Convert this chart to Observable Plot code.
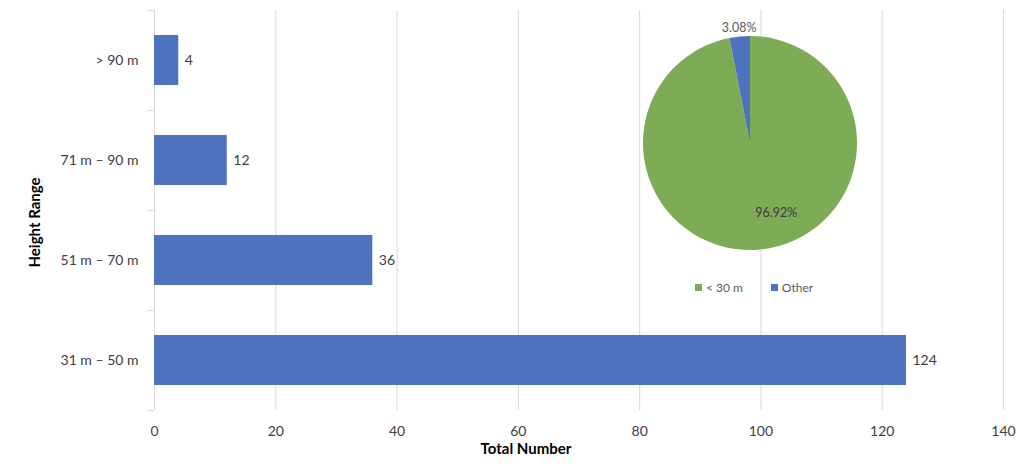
<!DOCTYPE html>
<html><head><meta charset="utf-8">
<script src="https://cdn.jsdelivr.net/npm/d3@7"></script>
<script src="https://cdn.jsdelivr.net/npm/@observablehq/plot@0.6"></script>
<style>
body{margin:0;background:#fff;}
#wrap{position:relative;width:1024px;height:473px;overflow:hidden;font-family:Lato,sans-serif;}
#pie{position:absolute;left:620px;top:0;}
#legend{position:absolute;left:624px;top:280px;width:260px;display:flex;justify-content:center;gap:28px;font:12px Lato,sans-serif;color:#595959;}
#legend span.sw{display:inline-block;width:7px;height:7px;margin-right:4px;vertical-align:middle;position:relative;top:-1px;}
</style>
</head><body><div id="wrap"><div id="pie"></div><div id="legend"></div></div>
<script>
const categories = ["> 90 m", "71 m – 90 m", "51 m – 70 m", "31 m – 50 m"];
const counts = [4, 12, 36, 124];
const xTicks = [0, 20, 40, 60, 80, 100, 120, 140];
const pieLabels = ["< 30 m", "Other"];
const pieShares = [96.92, 3.08];
const barColor = "#4f72be";
const pieColors = ["#7eab55", "#4f72be"];

const W = 1024, H = 473, mT = 10, mB = 63, mL = 154, mR = 21;
const step = (H - mT - mB) / categories.length;
const bars = categories.map((c, i) => ({cat: c, n: counts[i]}));

const main = Plot.plot({
  width: W, height: H, marginTop: mT, marginBottom: mB, marginLeft: mL, marginRight: mR,
  style: {fontFamily: "Lato, sans-serif", fontSize: "14px", color: "#404040", background: "#fff"},
  x: {domain: [0, 140], ticks: xTicks, label: null},
  y: {domain: categories, paddingInner: 0.5, paddingOuter: 0.25, label: null},
  marks: [
    Plot.gridX(xTicks.slice(1), {stroke: "#d9d9d9", strokeOpacity: 1}),
    Plot.ruleX([0], {stroke: "#d9d9d9"}),
    Plot.ruleY(categories, {y: d => d, dy: -step / 2, stroke: "#d9d9d9", insetLeft: -6, insetRight: W - mL - mR}),
    Plot.ruleY(categories.slice(-1), {y: d => d, dy: step / 2, stroke: "#d9d9d9", insetLeft: -6, insetRight: W - mL - mR}),
    Plot.barX(bars, {x: "n", y: "cat", fill: barColor}),
    Plot.text(bars, {x: "n", y: "cat", text: d => String(d.n), textAnchor: "start", dx: 6, fill: "#404040"}),
    Plot.axisX({ticks: xTicks, tickSize: 0, tickPadding: 16, label: null}),
    Plot.axisY({tickSize: 0, tickPadding: 16, label: null}),
    Plot.text(["Total Number"], {frameAnchor: "bottom", textAnchor: "middle", lineAnchor: "middle", dx: -53, dy: 39, fontWeight: "bold", fontSize: 15, fill: "#000"}),
    Plot.text(["Height Range"], {frameAnchor: "left", textAnchor: "middle", lineAnchor: "middle", rotate: -90, dx: -119, dy: 12, fontWeight: "bold", fontSize: 15, fill: "#000"})
  ]
});
document.getElementById("wrap").prepend(main);

// Pie
const pieData = d3.pie().sort(null).value(d => d.v)(pieLabels.map((l, i) => ({label: l, v: pieShares[i], color: pieColors[i]})));
const pW = 260, pH = 275, cx = 130, cy = 143, R = 107;
const mid = a => (a.startAngle + a.endAngle) / 2;
const labelPts = pieData.map(a => {
  const inside = a.data.v > 10;
  const r = inside ? 0.65 : 1.09;
  return {x: r * Math.sin(mid(a)), y: r * Math.cos(mid(a)), text: a.data.v.toFixed(2) + "%", inside};
});
const pie = Plot.plot({
  width: pW, height: pH, margin: 0,
  style: {fontFamily: "Lato, sans-serif", fontSize: "12.5px", background: "transparent"},
  x: {domain: [-1, 1], range: [cx - R, cx + R], axis: null},
  y: {domain: [-1, 1], range: [cy + R, cy - R], axis: null},
  marks: [
    (index, scales) => {
      const g = d3.create("svg:g");
      const r = scales.x(1) - scales.x(0);
      const arc = d3.arc().innerRadius(0).outerRadius(r);
      g.attr("transform", `translate(${scales.x(0)},${scales.y(0)})`);
      g.selectAll("path").data(pieData).join("path")
        .attr("d", arc).attr("fill", d => d.data.color);
      return g.node();
    },
    Plot.text(labelPts.filter(d => d.inside), {x: "x", y: "y", text: "text", fill: "#404040", dx: 19}),
    Plot.text(labelPts.filter(d => !d.inside), {x: "x", y: "y", text: "text", fill: "#595959", dy: 1})
  ]
});
document.getElementById("pie").append(pie);

const leg = document.getElementById("legend");
pieLabels.forEach((l, i) => {
  const s = document.createElement("span");
  s.innerHTML = `<span class="sw" style="background:${pieColors[i]}"></span>`;
  s.append(document.createTextNode(l));
  leg.append(s);
});
</script>
</body></html>
